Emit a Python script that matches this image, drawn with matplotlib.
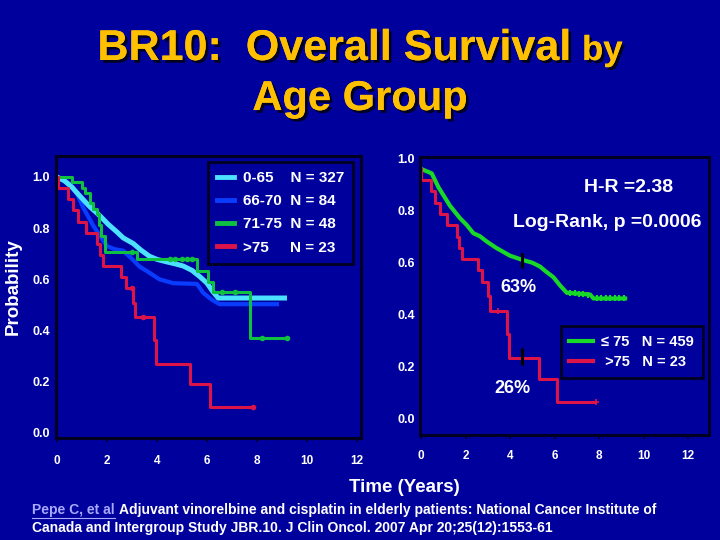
import matplotlib
matplotlib.use('Agg')
import matplotlib.pyplot as plt
import matplotlib.patheffects as pe
from matplotlib.lines import Line2D
from matplotlib.transforms import ScaledTranslation

plt.rcParams['font.family'] = ['Liberation Sans', 'DejaVu Sans']
plt.rcParams['font.weight'] = 'bold'

# ---- data ----
group_labels = ['0-65', '66-70', '71-75', '>75']
group_n = [327, 84, 48, 23]

# 0-65
t_0_65 = [0, 0.3, 0.6, 0.92, 1.3, 1.72, 2.05, 2.4, 2.65, 3.05, 3.35, 3.7, 4.0, 4.4, 4.75, 5.05, 5.4, 5.72, 6.0, 6.25, 6.45, 9.1]
s_0_65 = [1.0, 0.985, 0.96, 0.925, 0.885, 0.848, 0.815, 0.785, 0.762, 0.74, 0.715, 0.69, 0.678, 0.668, 0.66, 0.652, 0.635, 0.61, 0.585, 0.55, 0.527, 0.527]

# 66-70
t_66_70 = [0, 0.5, 0.8, 1.05, 1.45, 1.75, 2.0, 2.3, 2.65, 3.0, 3.3, 3.6, 4.1, 4.65, 5.6, 5.85, 6.2, 6.5, 8.8]
s_66_70 = [1.0, 0.975, 0.935, 0.88, 0.81, 0.765, 0.73, 0.718, 0.712, 0.68, 0.65, 0.632, 0.60, 0.585, 0.582, 0.547, 0.52, 0.503, 0.503]

# 71-75
t_71_75 = [0, 0.6, 1.0, 1.12, 1.3, 1.45, 1.6, 1.68, 1.75, 1.9, 3.2, 5.6, 6.05, 6.25, 7.7, 9.2]
s_71_75 = [1.0, 0.979, 0.958, 0.937, 0.90, 0.875, 0.854, 0.812, 0.77, 0.705, 0.68, 0.633, 0.59, 0.55, 0.37, 0.37]
cens_t_71_75 = [3.0, 4.5, 4.7, 5.0, 5.2, 5.4, 6.6, 7.1, 8.2, 9.2]
cens_s_71_75 = [0.705, 0.68, 0.68, 0.68, 0.68, 0.68, 0.55, 0.55, 0.37, 0.37]

# >75 (same group in both panels)
t_gt75 = [0, 0.02, 0.45, 0.65, 0.85, 1.15, 1.6, 1.72, 1.82, 2.55, 2.75, 3.03, 3.1, 3.88, 3.95, 5.3, 6.12, 7.8]
s_gt75 = [1.0, 0.957, 0.913, 0.870, 0.826, 0.783, 0.739, 0.696, 0.652, 0.609, 0.565, 0.509, 0.452, 0.362, 0.271, 0.19, 0.10, 0.10]
cens_t_gt75 = [3.0, 3.45, 7.85]
cens_s_gt75 = [0.565, 0.452, 0.10]

# <=75 pooled
pooled_labels = ['\u2264 75', ' >75']
pooled_n = [459, 23]
t_le75 = [0, 0.48, 0.78, 1.3, 1.75, 2.05, 2.35, 2.65, 2.95, 3.4, 3.55, 4.0, 4.55, 5.0, 5.35, 5.6, 5.95, 6.25, 6.55, 7.6, 7.75, 9.17]
s_le75 = [1.0, 0.983, 0.93, 0.858, 0.81, 0.784, 0.752, 0.74, 0.72, 0.694, 0.687, 0.665, 0.649, 0.638, 0.623, 0.605, 0.582, 0.55, 0.522, 0.515, 0.50, 0.50]
cens_t_le75 = [6.7, 6.9, 7.1, 7.3, 7.5, 7.9, 8.1, 8.3, 8.5, 8.7, 8.9, 9.1]
cens_s_le75 = [0.52, 0.52, 0.518, 0.516, 0.515, 0.50, 0.50, 0.50, 0.50, 0.50, 0.50, 0.50]

# 5-year marks
mark_t = [4.55, 4.55]
mark_lo = [0.618, 0.243]
mark_hi = [0.676, 0.309]
mark_text = ['63%', '26%']

x_ticks = [0, 2, 4, 6, 8, 10, 12]
y_ticks = [0.0, 0.2, 0.4, 0.6, 0.8, 1.0]

BG = '#00009C'
FRAME = '#000022'
GOLD = '#FFC000'
CYAN = '#4CE2FF'
BLUE = '#0A3CFF'
GREEN = '#10C040'
GREEN2 = '#18D828'
RED = '#DD1448'
NARROW = ['Liberation Sans Narrow', 'Liberation Sans', 'DejaVu Sans']

fig = plt.figure(figsize=(7.2, 5.4), dpi=100, facecolor=BG)
axL = fig.add_axes([56/720, 102/540, 305/720, 282/540])
axR = fig.add_axes([420/720, 105/540, 289/720, 278/540])

for ax in (axL, axR):
    ax.set_facecolor(BG)
    for sp in ax.spines.values():
        sp.set_color(FRAME)
        sp.set_linewidth(2.2)
    ax.set_xticks(x_ticks)
    ax.set_yticks(y_ticks)
    ax.set_yticklabels([f'{v:.1f}' for v in y_ticks])
    ax.tick_params(axis='y', length=0, labelcolor='white', labelsize=9)
    ax.tick_params(axis='x', length=3, width=1.2, color=FRAME, direction='out',
                   labelcolor='white', labelsize=8.5)

axL.tick_params(axis='y', pad=4.5)
axL.tick_params(axis='x', pad=9)
axR.tick_params(axis='y', pad=3.5)
axR.tick_params(axis='x', pad=7.5)
axL.set_xlim(-0.04, 12.16)
axL.set_ylim(-0.02, 1.082)
axR.set_xlim(-0.045, 12.94)
axR.set_ylim(-0.027, 1.046)

# left panel
lb, = axL.plot(t_66_70, s_66_70, color=BLUE, lw=3.0, solid_joinstyle='round')
lc, = axL.plot(t_0_65, s_0_65, color=CYAN, lw=3.6, solid_joinstyle='round')
lg, = axL.step(t_71_75, s_71_75, where='post', color=GREEN, lw=2.2)
lr, = axL.step(t_gt75, s_gt75, where='post', color=RED, lw=2.2)
axL.plot(cens_t_71_75, cens_s_71_75, 'o', ms=3, color=GREEN)
axL.plot(cens_t_gt75, cens_s_gt75, 'o', ms=3, color=RED)

pads = ['    ', '  ', '  ', '     ']
legL = axL.legend([lc, lb, lg, lr],
                  [f'{g}{p}N = {n}' for g, p, n in zip(group_labels, pads, group_n)],
                  loc='upper right', bbox_to_anchor=(0.974, 0.979), borderaxespad=0,
                  fontsize=11, labelcolor='white', facecolor=BG, edgecolor=FRAME,
                  fancybox=False, framealpha=1, handlelength=1.1, handletextpad=0.55,
                  labelspacing=0.6, borderpad=0.6)
legL.get_frame().set_linewidth(2)
for h in legL.get_lines():
    h.set_linewidth(3.5)

# right panel
lg2, = axR.plot(t_le75, s_le75, color=GREEN2, lw=3.0, solid_joinstyle='round')
lr2, = axR.step(t_gt75, s_gt75, where='post', color=RED, lw=2.2)
axR.plot(cens_t_le75, cens_s_le75, '|', ms=5, mew=1.5, color=GREEN2)
axR.plot(cens_t_gt75[1:], cens_s_gt75[1:], '+', ms=5, mew=1.2, color=RED)
axR.vlines(mark_t, mark_lo, mark_hi, color='black', lw=2.2, zorder=5)
axR.text(4.36, 0.544, mark_text[0], color='white', fontsize=13, ha='center', va='center')
axR.text(4.13, 0.154, mark_text[1], color='white', fontsize=13, ha='center', va='center')
axR.text(0.72, 0.892, 'H-R =2.38', transform=axR.transAxes, color='white', fontsize=14,
         ha='center', va='center')
axR.text(0.647, 0.766, 'Log-Rank, p =0.0006', transform=axR.transAxes, color='white',
         fontsize=14, ha='center', va='center')

legR = axR.legend([lg2, lr2],
                  [f'{g}   N = {n}' for g, n in zip(pooled_labels, pooled_n)],
                  loc='lower right', bbox_to_anchor=(0.979, 0.205), borderaxespad=0,
                  fontsize=10.5, labelcolor='white', facecolor=BG, edgecolor=FRAME,
                  fancybox=False, framealpha=1, handlelength=1.6, handletextpad=0.6,
                  labelspacing=0.45, borderpad=0.6)
legR.get_frame().set_linewidth(2)
for h in legR.get_lines():
    h.set_linewidth(3.0)

# right panel tick labels sit a little above their ticks on the slide
for lab in axR.get_yticklabels():
    lab.set_transform(lab.get_transform() + ScaledTranslation(0, 0.10, fig.dpi_scale_trans))

fig.text(0.019, 0.469, 'Probability', rotation=90, color='white', fontsize=13.5,
         ha='center', va='center')
fig.text(0.561, 0.098, 'Time (Years)', color='white', fontsize=13.5, ha='center', va='center')

# title
shadow = [pe.withSimplePatchShadow(offset=(2, -2), shadow_rgbFace='black', alpha=0.75), pe.Normal()]
t1 = fig.text(0, 1 - 60/540, 'BR10:  Overall Survival', fontsize=31, color=GOLD,
              ha='left', va='baseline', path_effects=shadow)
t2 = fig.text(0, 1 - 60/540, 'by', fontsize=25, color=GOLD, ha='left', va='baseline',
              path_effects=shadow)
fig.text(0.5, 1 - 110/540, 'Age Group', fontsize=30, color=GOLD, ha='center', va='baseline',
         path_effects=shadow)
fig.canvas.draw()
w1 = t1.get_window_extent().width
w2 = t2.get_window_extent().width
gap = 12
x0 = 360 - (w1 + gap + w2) / 2
t1.set_x(x0 / 720)
t2.set_x((x0 + w1 + gap) / 720)

# citation
c1 = fig.text(32/720, 1 - 510/540, 'Pepe C, et al', color='#A8A8FF', fontsize=10,
              family=NARROW, va='center', ha='left')
fig.canvas.draw()
bb = c1.get_window_extent()
fig.text((bb.x1 + 4) / 720, 1 - 510/540,
         'Adjuvant vinorelbine and cisplatin in elderly patients: National Cancer Institute of',
         color='white', fontsize=10, family=NARROW, va='center', ha='left')
fig.text(32/720, 1 - 528/540,
         'Canada and Intergroup Study JBR.10. J Clin Oncol. 2007 Apr 20;25(12):1553-61',
         color='white', fontsize=10, family=NARROW, va='center', ha='left')
fig.add_artist(Line2D([bb.x0/720, bb.x1/720], [(bb.y0 - 0.5)/540] * 2, color='#A8A8FF', lw=0.8))

fig.savefig('out.png', dpi=100, facecolor=fig.get_facecolor())
